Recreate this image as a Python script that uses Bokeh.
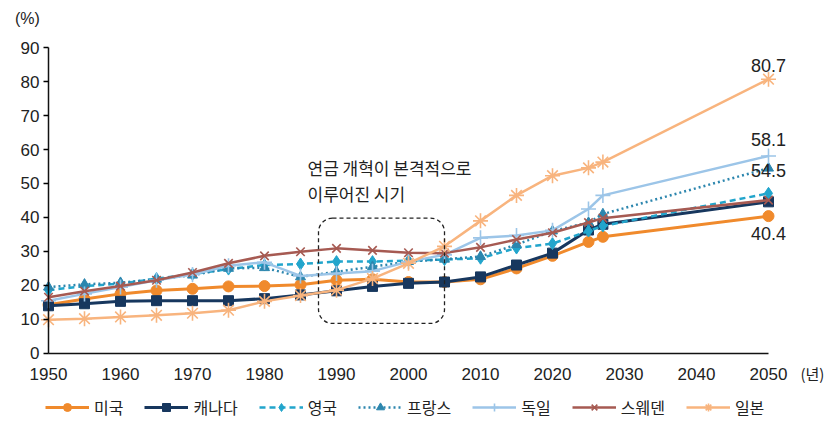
from bokeh.plotting import figure
from bokeh.models import (Range1d, FixedTicker, Legend, LegendItem, Label, LabelSet,
                          ColumnDataSource, BoxAnnotation)
from bokeh.core.properties import value
from bokeh.embed import file_html
from bokeh.resources import INLINE

years = [1950, 1955, 1960, 1965, 1970, 1975, 1980, 1985, 1990, 1995,
         2000, 2005, 2010, 2015, 2020, 2025, 2027, 2050]

us      = [14.3, 16.0, 17.5, 18.5, 19.0, 19.7, 19.8, 20.2, 21.5, 21.8, 21.0, 21.0, 21.8, 25.0, 28.7, 32.8, 34.3, 40.4]
canada  = [14.0, 14.6, 15.3, 15.5, 15.5, 15.5, 16.1, 17.2, 18.4, 19.7, 20.6, 21.0, 22.5, 26.0, 29.5, 36.3, 38.0, 44.6]
uk      = [18.6, 19.8, 20.5, 22.0, 23.3, 24.8, 26.0, 26.3, 27.0, 27.0, 27.3, 27.6, 28.0, 31.0, 32.3, 36.0, 37.5, 47.1]
france  = [19.5, 20.3, 20.8, 21.8, 23.0, 25.0, 25.2, 22.5, 24.0, 25.5, 27.0, 27.7, 28.5, 32.0, 36.0, 38.5, 41.0, 54.5]
germany = [15.5, 17.5, 19.5, 21.5, 23.2, 25.8, 26.8, 22.8, 23.5, 24.2, 27.0, 29.0, 34.0, 34.7, 36.2, 42.5, 46.5, 58.1]
sweden  = [16.5, 18.3, 19.8, 21.5, 23.8, 26.5, 28.7, 29.9, 30.9, 30.3, 29.6, 29.5, 31.2, 33.5, 35.5, 38.5, 39.8, 45.1]
japan   = [9.9, 10.2, 10.7, 11.2, 11.8, 12.7, 15.3, 17.0, 18.6, 22.0, 26.5, 31.5, 39.0, 46.5, 52.3, 54.6, 56.3, 80.7]

names = ["미국", "캐나다", "영국", "프랑스", "독일", "스웨덴", "일본"]
x_ticks = [1950, 1960, 1970, 1980, 1990, 2000, 2010, 2020, 2030, 2040, 2050]
y_ticks = [0, 10, 20, 30, 40, 50, 60, 70, 80, 90]

end_labels = ["80.7", "58.1", "54.5", "40.4"]
end_values = [80.7, 58.1, 54.5, 40.4]
end_offsets = [14, 16, -2, -17]

KFONT = "Noto Sans CJK KR"
NFONT = "Liberation Sans"

p = figure(width=830, height=424, output_backend="svg", toolbar_location=None,
           x_range=Range1d(1943.333, 2058.611), y_range=Range1d(-20.95, 103.87),
           min_border=0, min_border_left=0, min_border_right=0,
           min_border_top=0, min_border_bottom=0)
p.outline_line_color = None
p.xgrid.visible = False
p.ygrid.visible = False
p.background_fill_color = "white"
p.border_fill_color = "white"

p.xaxis.fixed_location = 0
p.yaxis.fixed_location = 1950
p.xaxis.bounds = (1950, 2050)
p.yaxis.bounds = (0, 90)
p.xaxis.ticker = FixedTicker(ticks=x_ticks)
p.yaxis.ticker = FixedTicker(ticks=y_ticks)
p.xaxis.major_tick_line_color = None
p.xaxis.minor_tick_line_color = None
p.yaxis.minor_tick_line_color = None
p.yaxis.major_tick_out = 5
p.yaxis.major_tick_in = 0
for ax in (p.xaxis, p.yaxis):
    ax.axis_line_color = "#111111"
    ax.axis_line_width = 1.5
    ax.major_label_text_font = NFONT
    ax.major_label_text_font_size = "17px"
    ax.major_label_text_color = "#222222"
p.yaxis.major_tick_line_width = 1.5
p.yaxis.major_label_standoff = 4
p.xaxis.major_label_standoff = 9

series = [
    (us,      "#F08A2C", "solid", "circle",   11, 3.0),
    (canada,  "#17375E", "solid", "square",   10, 3.0),
    (uk,      "#22A5CC", "6 4",   "diamond",  12, 2.5),
    (france,  "#2C86AE", "2 3",   "triangle", 10, 2.5),
    (germany, "#9CC5E8", "solid", "cross",    15, 2.5),
    (sweden,  "#A65A52", "solid", "x",        12, 2.5),
    (japan,   "#F8B47E", "solid", "asterisk", 15, 2.5),
]

items = []
for (vals, color, dash, marker, size, lw), name in zip(series, names):
    src = ColumnDataSource(dict(x=years, y=vals))
    r1 = p.line("x", "y", source=src, line_color=color, line_width=lw, line_dash=dash)
    if marker in ("cross", "x", "asterisk"):
        r2 = p.scatter("x", "y", source=src, marker=marker, size=size,
                       line_color=color, line_width=1.6, fill_color=color)
    else:
        r2 = p.scatter("x", "y", source=src, marker=marker, size=size,
                       line_color=color, fill_color=color)
    items.append(LegendItem(label=name, renderers=[r1, r2]))

legend = Legend(items=items, orientation="horizontal", location=(45, 5),
                label_text_font=KFONT, label_text_font_size="16px",
                label_text_color="#222222", glyph_width=44, glyph_height=20,
                label_height=20, label_standoff=5, spacing=21, padding=0, margin=0,
                border_line_color=None, background_fill_alpha=0)
p.add_layout(legend, "center")

box = BoxAnnotation(left=1987.5, right=2005, bottom=8.8, top=39.8,
                    fill_alpha=0, line_color="#222222", line_alpha=1.0, line_width=1.3,
                    line_dash="4 3", border_radius=14)
p.add_layout(box)

p.add_layout(Label(x=1985.97, y=54.6, text="연금 개혁이 본격적으로", text_font=KFONT,
                   text_font_size="17px", text_color="#222222", text_baseline="middle"))
p.add_layout(Label(x=1985.97, y=47.2, text="이루어진 시기", text_font=KFONT,
                   text_font_size="17px", text_color="#222222", text_baseline="middle"))

lsrc = ColumnDataSource(dict(x=[2050] * 4, y=end_values, t=end_labels, off=end_offsets))
p.add_layout(LabelSet(x="x", y="y", text="t", source=lsrc, y_offset="off",
                      text_align="center", text_baseline="middle",
                      text_font=value(NFONT), text_font_size=value("18px"),
                      text_color="#222222"))

p.add_layout(Label(x=1947.08, y=98.56, text="(%)", text_font=NFONT, text_font_size="16px",
                   text_color="#222222", text_align="center", text_baseline="middle"))
p.add_layout(Label(x=2056.1, y=-5.9, text="(년)", text_font=KFONT, text_font_size="15px",
                   text_color="#222222", text_align="center", text_baseline="middle"))

open("out.html", "w").write(file_html(p, INLINE))
